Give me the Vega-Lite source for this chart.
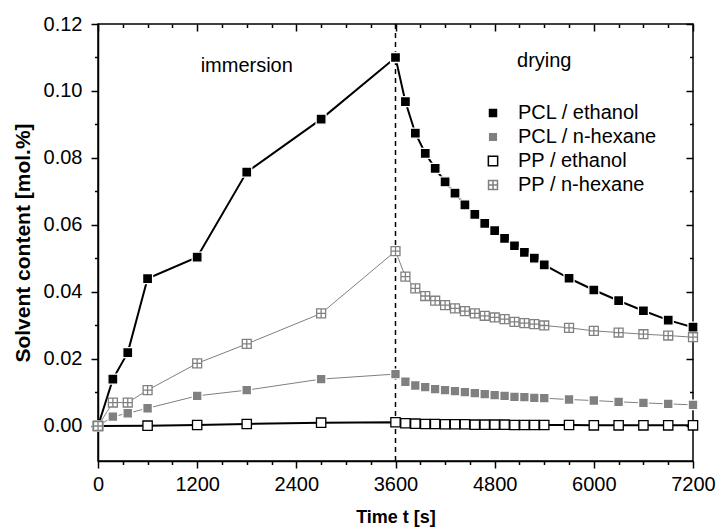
{
  "$schema": "https://vega.github.io/schema/vega-lite/v6.json",
  "autosize": {"type": "none"},
  "width": 595,
  "height": 437,
  "padding": {"left": 98, "top": 24, "right": 26, "bottom": 68},
  "background": "white",
  "config": {
    "view": {"stroke": "black", "strokeWidth": 1.5},
    "font": "Liberation Sans",
    "axis": {"labelFont": "Liberation Sans", "titleFont": "Liberation Sans", "labelColor": "black", "titleColor": "black", "domainColor": "black", "tickColor": "black", "grid": false},
    "legend": {
      "orient": "none", "legendX": 385, "legendY": 79, "padding": 0, "title": null,
      "labelFontSize": 20, "labelColor": "black", "labelFont": "Liberation Sans",
      "labelOffset": 15, "rowPadding": 4, "symbolSize": 64, "symbolStrokeWidth": 1.5
    }
  },
  "datasets": {
    "main": [
      {"series": "PCL / ethanol", "t": 0, "v": 0},
      {"series": "PCL / ethanol", "t": 180, "v": 0.014},
      {"series": "PCL / ethanol", "t": 360, "v": 0.0219},
      {"series": "PCL / ethanol", "t": 600, "v": 0.044},
      {"series": "PCL / ethanol", "t": 1200, "v": 0.0504},
      {"series": "PCL / ethanol", "t": 1800, "v": 0.0758},
      {"series": "PCL / ethanol", "t": 2700, "v": 0.0916},
      {"series": "PCL / ethanol", "t": 3600, "v": 0.110},
      {"series": "PCL / ethanol", "t": 3720, "v": 0.0968},
      {"series": "PCL / ethanol", "t": 3840, "v": 0.0874},
      {"series": "PCL / ethanol", "t": 3960, "v": 0.0814},
      {"series": "PCL / ethanol", "t": 4080, "v": 0.0769},
      {"series": "PCL / ethanol", "t": 4200, "v": 0.0729},
      {"series": "PCL / ethanol", "t": 4320, "v": 0.0695},
      {"series": "PCL / ethanol", "t": 4440, "v": 0.0660},
      {"series": "PCL / ethanol", "t": 4560, "v": 0.0632},
      {"series": "PCL / ethanol", "t": 4680, "v": 0.0605},
      {"series": "PCL / ethanol", "t": 4800, "v": 0.0583},
      {"series": "PCL / ethanol", "t": 4920, "v": 0.0560},
      {"series": "PCL / ethanol", "t": 5040, "v": 0.0538},
      {"series": "PCL / ethanol", "t": 5160, "v": 0.0518},
      {"series": "PCL / ethanol", "t": 5280, "v": 0.0501},
      {"series": "PCL / ethanol", "t": 5400, "v": 0.0481},
      {"series": "PCL / ethanol", "t": 5700, "v": 0.0441},
      {"series": "PCL / ethanol", "t": 6000, "v": 0.0406},
      {"series": "PCL / ethanol", "t": 6300, "v": 0.0374},
      {"series": "PCL / ethanol", "t": 6600, "v": 0.0344},
      {"series": "PCL / ethanol", "t": 6900, "v": 0.0316},
      {"series": "PCL / ethanol", "t": 7200, "v": 0.0295},

      {"series": "PCL / n-hexane", "t": 0, "v": 0},
      {"series": "PCL / n-hexane", "t": 180, "v": 0.0028},
      {"series": "PCL / n-hexane", "t": 360, "v": 0.0038},
      {"series": "PCL / n-hexane", "t": 600, "v": 0.0053},
      {"series": "PCL / n-hexane", "t": 1200, "v": 0.0090},
      {"series": "PCL / n-hexane", "t": 1800, "v": 0.0107},
      {"series": "PCL / n-hexane", "t": 2700, "v": 0.0140},
      {"series": "PCL / n-hexane", "t": 3600, "v": 0.0155},
      {"series": "PCL / n-hexane", "t": 3720, "v": 0.0132},
      {"series": "PCL / n-hexane", "t": 3840, "v": 0.0121},
      {"series": "PCL / n-hexane", "t": 3960, "v": 0.0116},
      {"series": "PCL / n-hexane", "t": 4080, "v": 0.0110},
      {"series": "PCL / n-hexane", "t": 4200, "v": 0.0107},
      {"series": "PCL / n-hexane", "t": 4320, "v": 0.0104},
      {"series": "PCL / n-hexane", "t": 4440, "v": 0.0101},
      {"series": "PCL / n-hexane", "t": 4560, "v": 0.0098},
      {"series": "PCL / n-hexane", "t": 4680, "v": 0.0095},
      {"series": "PCL / n-hexane", "t": 4800, "v": 0.0092},
      {"series": "PCL / n-hexane", "t": 4920, "v": 0.0090},
      {"series": "PCL / n-hexane", "t": 5040, "v": 0.0087},
      {"series": "PCL / n-hexane", "t": 5160, "v": 0.0086},
      {"series": "PCL / n-hexane", "t": 5280, "v": 0.0084},
      {"series": "PCL / n-hexane", "t": 5400, "v": 0.0083},
      {"series": "PCL / n-hexane", "t": 5700, "v": 0.0079},
      {"series": "PCL / n-hexane", "t": 6000, "v": 0.0076},
      {"series": "PCL / n-hexane", "t": 6300, "v": 0.0072},
      {"series": "PCL / n-hexane", "t": 6600, "v": 0.0069},
      {"series": "PCL / n-hexane", "t": 6900, "v": 0.0066},
      {"series": "PCL / n-hexane", "t": 7200, "v": 0.0063},

      {"series": "PP / ethanol", "t": 0, "v": 0},
      {"series": "PP / ethanol", "t": 600, "v": 0.0001},
      {"series": "PP / ethanol", "t": 1200, "v": 0.0003},
      {"series": "PP / ethanol", "t": 1800, "v": 0.0006},
      {"series": "PP / ethanol", "t": 2700, "v": 0.0010},
      {"series": "PP / ethanol", "t": 3600, "v": 0.0011},
      {"series": "PP / ethanol", "t": 3720, "v": 0.0008},
      {"series": "PP / ethanol", "t": 3840, "v": 0.0007},
      {"series": "PP / ethanol", "t": 3960, "v": 0.0006},
      {"series": "PP / ethanol", "t": 4080, "v": 0.0006},
      {"series": "PP / ethanol", "t": 4200, "v": 0.0005},
      {"series": "PP / ethanol", "t": 4320, "v": 0.0005},
      {"series": "PP / ethanol", "t": 4440, "v": 0.0005},
      {"series": "PP / ethanol", "t": 4560, "v": 0.0004},
      {"series": "PP / ethanol", "t": 4680, "v": 0.0004},
      {"series": "PP / ethanol", "t": 4800, "v": 0.0004},
      {"series": "PP / ethanol", "t": 4920, "v": 0.0004},
      {"series": "PP / ethanol", "t": 5040, "v": 0.0003},
      {"series": "PP / ethanol", "t": 5160, "v": 0.0003},
      {"series": "PP / ethanol", "t": 5280, "v": 0.0003},
      {"series": "PP / ethanol", "t": 5400, "v": 0.0003},
      {"series": "PP / ethanol", "t": 5700, "v": 0.0003},
      {"series": "PP / ethanol", "t": 6000, "v": 0.0002},
      {"series": "PP / ethanol", "t": 6300, "v": 0.0002},
      {"series": "PP / ethanol", "t": 6600, "v": 0.0002},
      {"series": "PP / ethanol", "t": 6900, "v": 0.0002},
      {"series": "PP / ethanol", "t": 7200, "v": 0.0002},

      {"series": "PP / n-hexane", "t": 0, "v": 0},
      {"series": "PP / n-hexane", "t": 180, "v": 0.0070},
      {"series": "PP / n-hexane", "t": 360, "v": 0.0070},
      {"series": "PP / n-hexane", "t": 600, "v": 0.0107},
      {"series": "PP / n-hexane", "t": 1200, "v": 0.0187},
      {"series": "PP / n-hexane", "t": 1800, "v": 0.0245},
      {"series": "PP / n-hexane", "t": 2700, "v": 0.0336},
      {"series": "PP / n-hexane", "t": 3600, "v": 0.0522},
      {"series": "PP / n-hexane", "t": 3720, "v": 0.0446},
      {"series": "PP / n-hexane", "t": 3840, "v": 0.0411},
      {"series": "PP / n-hexane", "t": 3960, "v": 0.0388},
      {"series": "PP / n-hexane", "t": 4080, "v": 0.0374},
      {"series": "PP / n-hexane", "t": 4200, "v": 0.0361},
      {"series": "PP / n-hexane", "t": 4320, "v": 0.0351},
      {"series": "PP / n-hexane", "t": 4440, "v": 0.0343},
      {"series": "PP / n-hexane", "t": 4560, "v": 0.0336},
      {"series": "PP / n-hexane", "t": 4680, "v": 0.0329},
      {"series": "PP / n-hexane", "t": 4800, "v": 0.0324},
      {"series": "PP / n-hexane", "t": 4920, "v": 0.0319},
      {"series": "PP / n-hexane", "t": 5040, "v": 0.0311},
      {"series": "PP / n-hexane", "t": 5160, "v": 0.0307},
      {"series": "PP / n-hexane", "t": 5280, "v": 0.0304},
      {"series": "PP / n-hexane", "t": 5400, "v": 0.0300},
      {"series": "PP / n-hexane", "t": 5700, "v": 0.0293},
      {"series": "PP / n-hexane", "t": 6000, "v": 0.0284},
      {"series": "PP / n-hexane", "t": 6300, "v": 0.0279},
      {"series": "PP / n-hexane", "t": 6600, "v": 0.0274},
      {"series": "PP / n-hexane", "t": 6900, "v": 0.0270},
      {"series": "PP / n-hexane", "t": 7200, "v": 0.0265}
    ],
    "labels": [
      {"label": "immersion", "t": 1800, "v": 0.1058},
      {"label": "drying", "t": 5400, "v": 0.1072}
    ],
    "marker": [{"t": 3600}]
  },
  "resolve": {"axis": {"x": "independent", "y": "independent"}},
  "layer": [
    {
      "data": {"name": "marker"},
      "mark": {"type": "rule", "color": "black", "strokeWidth": 1.5, "strokeDash": [5, 4]},
      "encoding": {
        "x": {"field": "t", "type": "quantitative", "scale": {"domain": [0, 7200], "nice": false, "zero": false}, "axis": null}
      }
    },
    {
      "data": {"name": "main"},
      "transform": [{"filter": {"field": "series", "oneOf": ["PCL / n-hexane", "PP / n-hexane"]}}],
      "mark": {"type": "line", "clip": true, "color": "#808080", "strokeWidth": 1},
      "encoding": {
        "x": {"field": "t", "type": "quantitative", "axis": null},
        "y": {"field": "v", "type": "quantitative", "axis": null},
        "detail": {"field": "series"}
      }
    },
    {
      "data": {"name": "main"},
      "transform": [{"filter": {"field": "series", "oneOf": ["PCL / ethanol", "PP / ethanol"]}}],
      "mark": {"type": "line", "clip": true, "color": "#000000", "strokeWidth": 2},
      "encoding": {
        "x": {"field": "t", "type": "quantitative", "scale": {"domain": [0, 7200], "nice": false, "zero": false},
          "axis": {"orient": "bottom", "title": "Time t [s]", "titleFontSize": 18, "titleFontWeight": "bold", "titlePadding": 14,
            "values": [0, 300, 600, 900, 1200, 1500, 1800, 2100, 2400, 2700, 3000, 3300, 3600, 3900, 4200, 4500, 4800, 5100, 5400, 5700, 6000, 6300, 6600, 6900, 7200],
            "labelExpr": "datum.value % 1200 === 0 ? datum.label : ''",
            "format": "d",
            "labelFontSize": 20, "labelPadding": 6, "labelFlush": false, "labelOverlap": false,
            "domainWidth": 1.5, "tickWidth": 1.5,
            "tickSize": {"condition": {"test": "datum.value % 1200 === 0", "value": 7}, "value": 3.5}}},
        "y": {"field": "v", "type": "quantitative", "scale": {"domain": [-0.01045, 0.12], "nice": false, "zero": false},
          "axis": {"orient": "left", "title": "Solvent content [mol.%]", "titleFontSize": 21, "titleFontWeight": "bold", "titlePadding": 10,
            "values": [0, 0.01, 0.02, 0.03, 0.04, 0.05, 0.06, 0.07, 0.08, 0.09, 0.1, 0.11, 0.12],
            "labelExpr": "round(datum.value * 100) % 2 === 0 ? format(datum.value, '.2f') : ''",
            "labelFontSize": 20, "labelPadding": 9, "labelFlush": false, "labelOverlap": false,
            "domainWidth": 1.5, "tickWidth": 1.5,
            "tickSize": {"condition": {"test": "round(datum.value * 100) % 2 === 0", "value": 7}, "value": 3.5}}},
        "detail": {"field": "series"}
      }
    },
    {
      "data": {"name": "main"},
      "mark": {"type": "point", "filled": false, "opacity": 1, "strokeWidth": 1.3},
      "encoding": {
        "x": {"field": "t", "type": "quantitative",
          "axis": {"orient": "top", "title": null, "labels": false, "domain": false, "tickWidth": 1.5,
            "values": [0, 300, 600, 900, 1200, 1500, 1800, 2100, 2400, 2700, 3000, 3300, 3600, 3900, 4200, 4500, 4800, 5100, 5400, 5700, 6000, 6300, 6600, 6900, 7200],
            "tickSize": {"condition": {"test": "datum.value % 1200 === 0", "value": -7}, "value": -3.5}}},
        "y": {"field": "v", "type": "quantitative",
          "axis": {"orient": "right", "title": null, "labels": false, "domain": false, "tickWidth": 1.5,
            "values": [0, 0.01, 0.02, 0.03, 0.04, 0.05, 0.06, 0.07, 0.08, 0.09, 0.1, 0.11, 0.12],
            "tickSize": {"condition": {"test": "round(datum.value * 100) % 2 === 0", "value": -7}, "value": -3.5}}},
        "size": {"field": "series", "type": "nominal", "title": null,
          "scale": {"domain": ["PCL / ethanol", "PCL / n-hexane", "PP / ethanol", "PP / n-hexane"], "range": [100, 80, 64, 64]}},
        "shape": {"field": "series", "type": "nominal", "title": null,
          "scale": {"domain": ["PCL / ethanol", "PCL / n-hexane", "PP / ethanol", "PP / n-hexane"],
            "range": ["square", "square", "square", "M-1,-1H1V1H-1ZM0,-1V1M-1,0H1"]}},
        "fill": {"field": "series", "type": "nominal", "title": null,
          "scale": {"domain": ["PCL / ethanol", "PCL / n-hexane", "PP / ethanol", "PP / n-hexane"], "range": ["#000000", "#808080", "#ffffff", "#ffffff"]}},
        "stroke": {"field": "series", "type": "nominal", "title": null,
          "scale": {"domain": ["PCL / ethanol", "PCL / n-hexane", "PP / ethanol", "PP / n-hexane"], "range": ["#ffffff", "#ffffff", "#000000", "#808080"]}}
      }
    },
    {
      "data": {"name": "labels"},
      "mark": {"type": "text", "fontSize": 20, "font": "Liberation Sans", "color": "black", "baseline": "alphabetic", "align": "center"},
      "encoding": {
        "x": {"field": "t", "type": "quantitative", "axis": null},
        "y": {"field": "v", "type": "quantitative", "axis": null},
        "text": {"field": "label"}
      }
    }
  ]
}
